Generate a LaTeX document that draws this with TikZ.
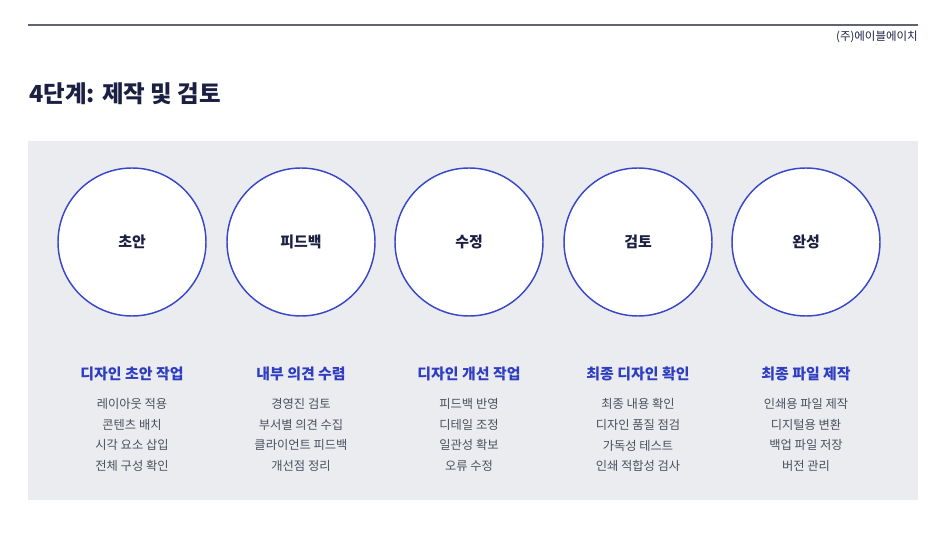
\documentclass[tikz,border=0pt]{standalone}
\usepackage{fontspec}
\setmainfont{Noto Sans CJK KR}
\usepackage{tikz}

\definecolor{panelgray}{HTML}{EBECF0}
\definecolor{ringblue}{HTML}{3A48C8}
\definecolor{headblue}{HTML}{2F3EC0}
\definecolor{titlenavy}{HTML}{1B2042}
\definecolor{itemgray}{HTML}{4B505C}
\definecolor{rulegray}{HTML}{5E6473}

\begin{document}
\begin{tikzpicture}[x=0.75pt,y=-0.75pt]
\tikzstyle{every node}+=[inner sep=0pt]
\tikzstyle{stage}=[circle,draw=ringblue,line width=1.1pt,fill=white,minimum size=111pt,font=\bfseries\fontsize{11.2}{13}\selectfont,text=titlenavy]
\tikzstyle{head}=[font=\bfseries\fontsize{11.2}{13}\selectfont,text=headblue]
\tikzstyle{item}=[font=\fontsize{9.2}{11}\selectfont,text=itemgray,align=center]
\useasboundingbox (0,0) rectangle (947,534);
% header
\draw [rulegray,line width=0.8pt] (28,25) -- (918,25);
\node [anchor=east,font=\fontsize{8.6}{10}\selectfont,text=titlenavy] (company) at (918,37) {(주)에이블에이치};
\node [anchor=west,font=\bfseries\fontsize{17.6}{22}\selectfont,text=titlenavy] (title) at (29,94) {4단계: 제작 및 검토};
% panel
\fill [panelgray] (28,141) rectangle (918,500);
% stages
\node [stage] (draft) at (132,242) {초안};
\node [stage] (feedback) at (301,242) {피드백};
\node [stage] (revise) at (469,242) {수정};
\node [stage] (review) at (638,242) {검토};
\node [stage] (finish) at (806,242) {완성};
% headings
\node [head] (drafthead) at (132,374) {디자인 초안 작업};
\node [head] (feedbackhead) at (301,374) {내부 의견 수렴};
\node [head] (revisehead) at (469,374) {디자인 개선 작업};
\node [head] (reviewhead) at (638,374) {최종 디자인 확인};
\node [head] (finishhead) at (806,374) {최종 파일 제작};
% items
\node [item,anchor=north] (draftlist) at (132,398.5) {레이아웃 적용\\[4.4pt]콘텐츠 배치\\[4.4pt]시각 요소 삽입\\[4.4pt]전체 구성 확인};
\node [item,anchor=north] (feedbacklist) at (301,398.5) {경영진 검토\\[4.4pt]부서별 의견 수집\\[4.4pt]클라이언트 피드백\\[4.4pt]개선점 정리};
\node [item,anchor=north] (reviselist) at (469,398.5) {피드백 반영\\[4.4pt]디테일 조정\\[4.4pt]일관성 확보\\[4.4pt]오류 수정};
\node [item,anchor=north] (reviewlist) at (638,398.5) {최종 내용 확인\\[4.4pt]디자인 품질 점검\\[4.4pt]가독성 테스트\\[4.4pt]인쇄 적합성 검사};
\node [item,anchor=north] (finishlist) at (806,398.5) {인쇄용 파일 제작\\[4.4pt]디지털용 변환\\[4.4pt]백업 파일 저장\\[4.4pt]버전 관리};
\end{tikzpicture}
\end{document}
